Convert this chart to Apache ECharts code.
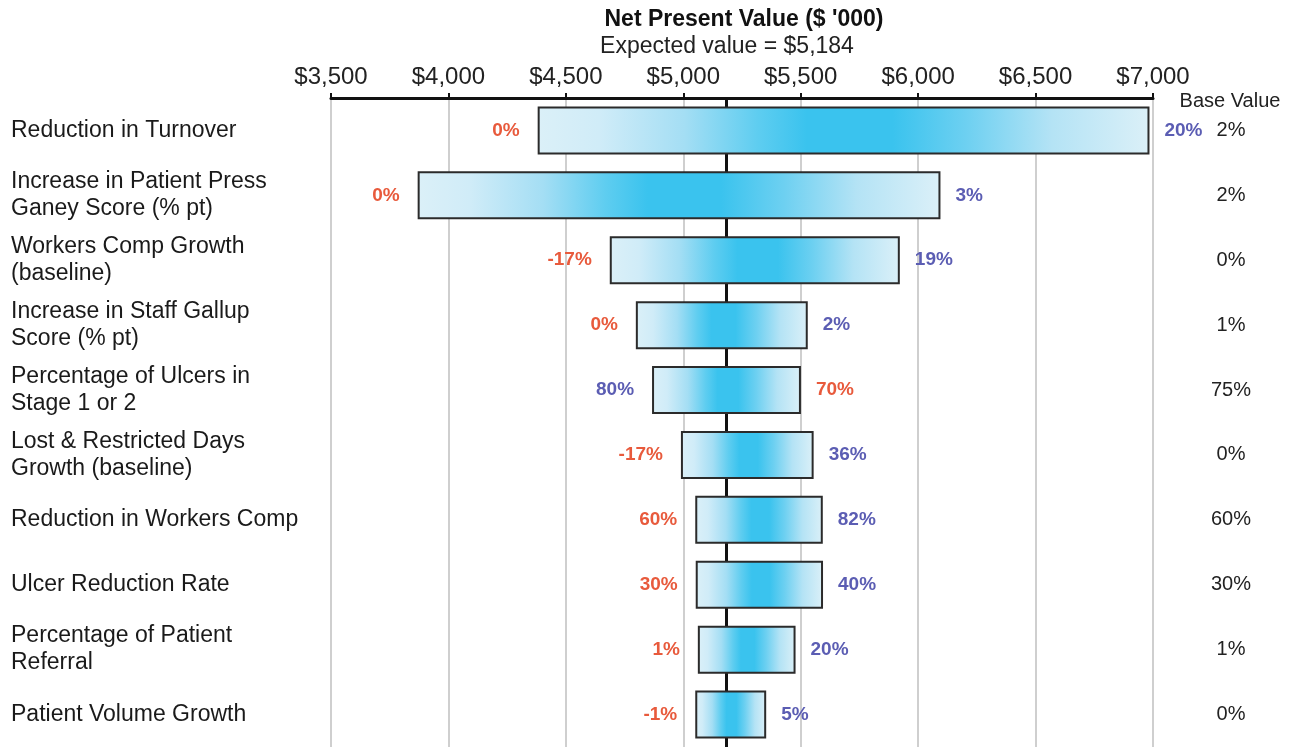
<!DOCTYPE html>
<html>
<head>
<meta charset="utf-8">
<script src="https://cdn.jsdelivr.net/npm/echarts@6/dist/echarts.min.js"></script>
<style>
  html, body { margin: 0; padding: 0; background: #fff; }
  #chart { width: 1292px; height: 747px; }
</style>
</head>
<body>
<div id="chart"></div>
<script>
// inputs, top to bottom
const categories = [
  'Reduction in Turnover',
  'Increase in Patient Press\nGaney Score (% pt)',
  'Workers Comp Growth\n(baseline)',
  'Increase in Staff Gallup\nScore (% pt)',
  'Percentage of Ulcers in\nStage 1 or 2',
  'Lost & Restricted Days\nGrowth (baseline)',
  'Reduction in Workers Comp',
  'Ulcer Reduction Rate',
  'Percentage of Patient\nReferral',
  'Patient Volume Growth'
];
// NPV ($ '000) at left and right end of each bar
const leftNpv = [4380, 3869, 4687, 4798, 4867, 4990, 5051, 5053, 5062, 5051];
const rightNpv = [6985, 6095, 5922, 5530, 5501, 5555, 5594, 5595, 5478, 5353];
// input value that gives each end
const leftInput = ['0%', '0%', '-17%', '0%', '80%', '-17%', '60%', '30%', '1%', '-1%'];
const rightInput = ['20%', '3%', '19%', '2%', '70%', '36%', '82%', '40%', '20%', '5%'];
const baseValues = ['2%', '2%', '0%', '1%', '75%', '0%', '60%', '30%', '1%', '0%'];
const expectedValue = 5184;
const xTicks = { min: 3500, max: 7000, interval: 500 };

const LOW_COLOR = '#e85a3c';
const HIGH_COLOR = '#5b5db3';
const FONT = 'Liberation Sans, Arial, sans-serif';

function lowOrHigh(a, b) {
  return parseFloat(a) <= parseFloat(b) ? LOW_COLOR : HIGH_COLOR;
}

const barFill = new echarts.graphic.LinearGradient(0, 0, 1, 0, [
  { offset: 0, color: '#dbf0f8' },
  { offset: 0.1, color: '#d0ecf8' },
  { offset: 0.24, color: '#a4def4' },
  { offset: 0.36, color: '#5ecdf0' },
  { offset: 0.44, color: '#3ac3ee' },
  { offset: 0.58, color: '#3ac3ee' },
  { offset: 0.7, color: '#6dd0f1' },
  { offset: 0.84, color: '#b4e3f5' },
  { offset: 1, color: '#dbf0f8' }
]);

const chart = echarts.init(document.getElementById('chart'));

const option = {
  animation: false,
  textStyle: { fontFamily: FONT },
  grid: { left: 331, right: 139, top: 98, bottom: 0 },
  graphic: [
    {
      type: 'text', x: 744, y: 8,
      style: { text: "Net Present Value ($ '000)", font: 'bold 23px ' + FONT, fill: '#111', textAlign: 'center' }
    },
    {
      type: 'text', x: 727, y: 35,
      style: { text: 'Expected value = $5,184', font: '23px ' + FONT, fill: '#222', textAlign: 'center' }
    },
    {
      type: 'text', x: 1230, y: 91,
      style: { text: 'Base Value', font: '20px ' + FONT, fill: '#222', textAlign: 'center' }
    }
  ],
  xAxis: {
    type: 'value',
    position: 'top',
    min: xTicks.min,
    max: xTicks.max,
    interval: xTicks.interval,
    axisLine: { show: true, lineStyle: { color: '#111', width: 3 } },
    axisTick: { show: true, length: 5, lineStyle: { color: '#111', width: 2 } },
    axisLabel: {
      margin: 9,
      fontSize: 24,
      color: '#222',
      formatter: v => '$' + v.toLocaleString('en-US')
    },
    splitLine: { show: true, lineStyle: { color: '#cfcfcf', width: 2 } }
  },
  yAxis: [
    {
      type: 'category',
      inverse: true,
      data: categories,
      axisLine: { show: false },
      axisTick: { show: false },
      axisLabel: {
        align: 'left',
        margin: 320,
        fontSize: 23,
        lineHeight: 27,
        color: '#1a1a1a'
      }
    },
    {
      type: 'category',
      inverse: true,
      position: 'right',
      data: categories.map((c, i) => i),
      axisLine: { show: false },
      axisTick: { show: false },
      axisLabel: {
        align: 'center',
        margin: 78,
        fontSize: 20,
        color: '#222',
        formatter: (v, i) => baseValues[i]
      }
    }
  ],
  series: [
    {
      name: 'base',
      type: 'bar',
      stack: 'npv',
      z: 1,
      barWidth: 48,
      itemStyle: { color: 'transparent' },
      data: leftNpv.map((v, i) => ({
        value: v,
        label: {
          show: true,
          position: 'insideRight',
          distance: 18,
          formatter: leftInput[i],
          fontSize: 19,
          fontWeight: 'bold',
          color: lowOrHigh(leftInput[i], rightInput[i])
        }
      })),
      markLine: {
        silent: true,
        z: 1,
        symbol: 'none',
        label: { show: false },
        lineStyle: { color: '#111', width: 3, type: 'solid' },
        data: [{ xAxis: expectedValue }]
      }
    },
    {
      name: 'range',
      type: 'bar',
      stack: 'npv',
      z: 4,
      barWidth: 48,
      itemStyle: { color: barFill, borderColor: '#2b2b2b', borderWidth: 2 },
      data: rightNpv.map((v, i) => ({
        value: v - leftNpv[i],
        label: {
          show: true,
          position: 'right',
          distance: 15,
          formatter: rightInput[i],
          fontSize: 19,
          fontWeight: 'bold',
          color: lowOrHigh(rightInput[i], leftInput[i])
        }
      }))
    }
  ]
};

chart.setOption(option);
</script>
</body>
</html>
